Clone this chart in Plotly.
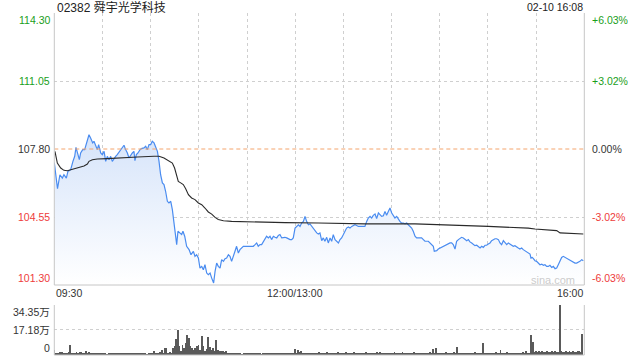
import plotly.graph_objects as go

# ---------------- data ----------------
title_text = "02382 舜宇光学科技"
date_text = "02-10 16:08"
prev_close = 107.80

# (trading minutes since 09:30, price)
price_points = [
    (0, 107.15), (2, 105.90), (3.5, 106.57), (5, 106.41), (6, 106.57), (7.5, 106.41), (8.5, 106.73),
    (10.2, 106.81), (11.6, 107.21), (12.7, 107.45), (13.5, 107.88), (14.8, 107.53), (15.6, 107.29),
    (16.4, 107.61), (17.7, 107.77), (18.9, 107.77), (20.2, 108.17), (21.6, 108.48), (22.6, 108.33),
    (23.9, 108.09), (24.7, 108.17), (25.8, 107.93), (26.8, 107.77), (27.6, 108.01), (28.9, 107.61),
    (29.9, 107.53), (31, 107.69), (32, 107.21), (33, 107.45), (34.1, 107.29), (35.1, 107.45),
    (36.1, 107.21), (37.2, 107.37), (38.2, 107.45), (39.2, 107.53), (40.9, 107.69), (42.4, 107.85),
    (43.4, 107.98), (44.4, 107.77), (45.5, 107.61), (46.5, 107.37), (47.5, 107.50), (48.6, 107.61),
    (49.6, 107.69), (50.2, 107.24), (51.1, 107.53), (52.1, 107.61), (53.4, 107.77), (54.2, 107.82),
    (55.8, 107.85), (56.9, 107.93), (57.9, 107.77), (59, 108.01), (60, 108.01), (61, 108.17),
    (62.1, 108.09), (63.1, 107.85), (64.2, 107.69), (65.2, 107.21), (66.2, 106.57), (67.3, 106.18),
    (68.3, 106.10), (69.3, 105.78), (70.4, 105.30), (71.4, 105.22), (72.5, 105.30), (73.5, 104.90),
    (74.5, 104.18), (75.6, 103.71), (76.2, 103.23), (77, 103.87), (78.3, 103.79), (79.3, 103.71),
    (80.1, 103.87), (81.2, 103.63), (82.4, 103.15), (83.9, 102.99), (85.1, 102.75), (86.6, 102.91),
    (87.6, 102.67), (88.6, 102.75), (89.7, 102.59), (90.7, 102.11), (91.8, 102.19), (92.8, 102.03),
    (93.8, 102.27), (94.9, 101.87), (95.9, 101.79), (97, 101.87), (98, 101.63), (99.2, 101.40),
    (100.1, 101.95), (101.1, 102.35), (102.1, 102.19), (103.2, 102.11), (104.2, 102.51), (105.3, 102.43),
    (106.3, 102.56), (107.3, 102.59), (108.4, 102.75), (109.4, 102.67), (110.4, 102.43), (111.5, 102.75),
    (112.5, 102.91), (113.5, 103.15), (114.6, 102.83), (115.6, 102.99), (116.7, 103.07), (117.7, 103.15),
    (119.8, 103.15), (121.8, 103.15), (123.9, 103.15), (125, 103.23), (126, 103.31), (127, 103.15),
    (128.1, 103.23), (129.1, 103.23), (130.2, 103.39), (131.2, 103.47), (132.2, 103.63), (133.3, 103.55),
    (134.3, 103.63), (135.3, 103.47), (136.4, 103.63), (137.4, 103.58), (138.5, 103.55), (139.5, 103.67),
    (140.5, 103.71), (141.6, 103.55), (142.6, 103.58), (143.6, 103.58), (144.7, 103.55), (145.7, 103.51),
    (146.8, 103.47), (147.8, 103.47), (148.8, 103.55), (149.9, 104.02), (150.9, 104.10), (152, 104.18),
    (153, 104.10), (154, 104.26), (155.1, 104.34), (156.1, 104.58), (157.1, 104.34), (158.2, 104.18),
    (159.2, 104.22), (160.3, 104.10), (161.3, 104.02), (162.3, 103.87), (163.4, 103.79), (164.4, 103.74),
    (165.4, 103.79), (166.5, 103.42), (167.5, 103.55), (168.5, 103.39), (169.6, 103.58), (170.6, 103.31),
    (171.7, 103.55), (172.7, 103.39), (173.7, 103.71), (174.8, 103.47), (175.8, 103.39), (176.9, 103.31),
    (177.9, 103.47), (178.9, 103.55), (180, 103.71), (181, 103.87), (182, 104.02), (183.1, 104.07),
    (184.1, 104.02), (185.2, 104.10), (186.2, 104.15), (187.2, 104.18), (188.3, 104.14), (189.3, 104.10),
    (191.4, 104.10), (193.4, 104.10), (194.5, 104.34), (195.5, 104.50), (196.6, 104.58), (197.6, 104.50),
    (198.6, 104.63), (199.7, 104.69), (200.7, 104.47), (201.8, 104.74), (202.8, 104.66), (203.8, 104.58),
    (204.9, 104.61), (205.9, 104.82), (206.9, 104.63), (208, 104.82), (209, 104.98), (210.1, 104.74),
    (211.1, 104.58), (212.1, 104.50), (213.2, 104.58), (214.2, 104.42), (215.2, 104.34), (216.3, 104.26),
    (217.3, 104.26), (218.4, 104.22), (219.4, 104.26), (220.4, 104.18), (221.5, 104.10), (222.5, 104.02),
    (223.5, 103.87), (224.6, 103.63), (225.6, 103.55), (226.7, 103.55), (227.7, 103.58), (228.7, 103.55),
    (229.8, 103.47), (230.8, 103.39), (232.9, 103.39), (233.9, 103.31), (235, 103.26), (236, 103.15),
    (236.6, 102.91), (238.1, 102.94), (239.1, 103.02), (240.2, 103.07), (241.2, 103.10), (242.2, 103.15),
    (243.3, 103.20), (244.3, 103.23), (245.3, 103.26), (246.4, 103.31), (247.4, 103.31), (248.4, 103.23),
    (249.5, 103.02), (250.5, 103.39), (251.6, 103.47), (252.6, 103.51), (253.6, 103.58), (254.7, 103.55),
    (255.7, 103.47), (256.8, 103.42), (257.8, 103.47), (258.8, 103.36), (259.9, 103.31), (260.9, 103.23),
    (261.9, 103.18), (263, 103.20), (264, 103.12), (265.1, 103.07), (266.1, 103.15), (267.1, 103.10),
    (268.2, 103.20), (269.2, 103.20), (270.2, 103.26), (271.3, 103.31), (272.3, 103.42), (273.4, 103.47),
    (274.4, 103.51), (275.4, 103.51), (276.5, 103.47), (277.5, 103.31), (278.5, 103.23), (279.6, 103.42),
    (280.6, 103.31), (281.7, 103.23), (282.7, 103.31), (283.7, 103.26), (284.8, 103.20), (285.8, 103.15),
    (286.8, 103.18), (287.9, 103.10), (288.9, 103.07), (289.9, 103.02), (291, 103.07), (292, 102.99),
    (293.1, 102.94), (294.1, 102.91), (295.1, 102.83), (296.2, 102.78), (296.8, 102.59), (297.6, 102.62),
    (298.3, 102.56), (299.3, 102.46), (300.3, 102.43), (301.4, 102.35), (302.4, 102.27), (303.5, 102.30),
    (304.5, 102.24), (305.5, 102.27), (306.6, 102.19), (307.6, 102.19), (308.6, 102.24), (309.7, 102.14),
    (310.7, 102.19), (311.8, 102.08), (312.8, 102.11), (313.8, 102.27), (314.9, 102.51), (315.9, 102.62),
    (316.9, 102.67), (318, 102.62), (319, 102.59), (320.1, 102.54), (321.1, 102.51), (322.1, 102.43),
    (323.2, 102.40), (324.2, 102.35), (325.2, 102.35), (326.3, 102.38), (327.3, 102.43), (328.4, 102.51),
    (329.4, 102.46),
]

# (trading minutes since 09:30, average price)
avg_points = [
    (0.4, 107.69), (1.9, 107.13), (4, 106.89), (6, 106.78), (8.1, 106.76), (10.2, 106.81), (12.3, 106.84),
    (14.3, 106.89), (16.4, 106.94), (18.5, 106.99), (20.6, 107.08), (21.6, 107.21), (23.7, 107.29),
    (26.8, 107.32), (33, 107.34), (41.3, 107.39), (51.7, 107.42), (62.1, 107.45), (65.2, 107.45),
    (68.3, 107.37), (71.4, 107.24), (73.5, 107.13), (74.9, 106.89), (76.2, 106.49), (77.2, 106.25),
    (78.7, 106.18), (80.3, 106.10), (81.8, 105.90), (83.5, 105.62), (85.5, 105.46), (87.6, 105.38),
    (89.7, 105.22), (91.8, 105.14), (93.8, 104.98), (95.9, 104.79), (98, 104.69), (100.1, 104.53),
    (102.1, 104.43), (105.3, 104.37), (110.4, 104.34), (122.9, 104.31), (143.6, 104.28), (164.4, 104.26),
    (193.4, 104.22), (224.6, 104.22), (245.3, 104.18), (270.2, 104.10), (295.1, 104.02), (299.3, 103.98),
    (312.8, 103.90), (314.9, 103.79), (329.4, 103.74),
]

# volume per minute (万股), minute 0..329
volume = [
    3.7, 1.5, 1.2, 0.9, 1.8, 2.2, 0.9, 1.5, 1.0, 1.8,
    7.1, 1.2, 1.6, 1.0, 2.0, 1.4, 1.8, 2.4, 1.1, 1.6,
    2.6, 1.2, 1.9, 1.5, 1.0, 1.3, 0.9, 1.1, 0.8, 0.9,
    0.8, 0.7, 0.9, 0.6, 0.8, 0.7, 1.0, 0.8, 1.2, 0.9,
    1.0, 0.8, 1.1, 0.9, 0.7, 1.0, 0.8, 0.9, 0.7, 0.8,
    0.9, 0.7, 0.8, 1.0, 0.7, 0.9, 0.8, 1.1, 0.6, 0.9,
    0.8, 1.2, 2.5, 1.0, 1.5, 1.2, 2.0, 3.7, 1.5, 4.8,
    4.6, 1.4, 1.8, 1.2, 4.8, 5.9, 10.8, 17.4, 6.0, 3.0,
    7.1, 5.0, 8.0, 14.0, 11.5, 6.0, 4.8, 3.2, 4.8, 5.9,
    7.1, 3.5, 12.8, 6.5, 3.0, 4.0, 12.1, 5.5, 3.2, 4.5,
    2.5, 10.5, 3.5, 2.8, 3.0, 2.6, 2.2, 2.8, 1.5, 1.2,
    1.0, 0.8, 1.2, 0.7, 0.9, 1.1, 0.8, 0.6, 1.0, 0.9,
    0.7, 1.0, 0.8, 1.2, 0.9, 0.7, 1.1, 0.8, 1.0, 0.6,
    0.9, 1.2, 0.8, 1.0, 0.7, 1.1, 0.9, 0.8, 1.3, 0.9,
    1.0, 0.7, 0.9, 1.2, 0.8, 1.0, 1.4, 0.9, 1.1, 1.3,
    4.1, 1.5, 3.2, 2.0, 2.5, 1.5, 1.2, 1.0, 1.6, 1.2,
    1.0, 1.4, 0.9, 1.2, 1.5, 1.8, 1.3, 1.0, 1.6, 1.4,
    1.8, 1.2, 1.5, 1.0, 1.4, 1.7, 1.3, 1.9, 1.2, 1.5,
    1.6, 1.2, 2.0, 1.4, 1.1, 1.5, 1.3, 1.8, 1.0, 1.4,
    1.2, 1.6, 1.0, 1.5, 2.2, 1.3, 1.1, 1.7, 1.4, 1.0,
    1.3, 1.8, 1.2, 2.0, 1.5, 1.1, 1.4, 1.6, 1.0, 1.3,
    1.5, 1.2, 1.8, 1.0, 1.6, 1.4, 1.2, 1.9, 1.1, 1.5,
    1.3, 1.7, 1.0, 1.4, 2.0, 1.2, 1.6, 1.1, 1.5, 1.3,
    1.2, 1.6, 1.4, 1.1, 1.8, 1.5, 3.9, 1.2, 4.6, 1.5,
    1.3, 1.7, 1.2, 1.5, 1.9, 1.1, 1.4, 1.6, 1.2, 1.8,
    1.4, 5.3, 1.2, 1.5, 1.0, 1.6, 1.3, 1.7, 1.1, 1.4,
    1.6, 1.2, 1.8, 1.1, 1.5, 1.3, 1.4, 8.0, 1.2, 1.6,
    1.3, 1.7, 1.1, 1.5, 1.2, 1.8, 1.4, 1.0, 3.4, 1.6,
    1.2, 1.5, 1.8, 1.1, 1.4, 1.6, 1.2, 1.7, 1.3, 1.5,
    1.6, 1.2, 1.8, 1.4, 3.0, 1.0, 1.5, 13.7, 8.7, 2.0,
    2.6, 2.2, 2.5, 2.0, 2.7, 2.3, 2.1, 2.6, 2.4, 2.0,
    2.5, 2.2, 2.7, 2.3, 2.1, 34.35, 2.6, 2.4, 2.2, 2.7,
    2.3, 2.5, 2.1, 2.6, 2.4, 2.2, 2.7, 2.5, 2.3, 14.2,
]

price_ticks = [114.30, 111.05, 107.80, 104.55, 101.30]
price_tick_text = ["114.30", "111.05", "107.80", "104.55", "101.30"]
pct_tick_text = ["+6.03%", "+3.02%", "0.00%", "-3.02%", "-6.03%"]
vol_ticks = [34.35, 17.18, 0]
vol_tick_text = ["34.35万", "17.18万", "0"]
time_ticks = [0, 150, 330]
time_tick_text = ["09:30", "12:00/13:00", "16:00"]

# ---------------- styling ----------------
W, H = 640, 360
X0, X1 = 54.3, 584.3
MAIN_TOP, MAIN_BOT = 13, 285
VOL_TOP, VOL_BOT = 305, 355
GREEN = "#1a9e1a"
RED = "#ee3b3b"
DARK = "#333333"
FONT = "Liberation Sans, Arial, Noto Sans CJK SC, sans-serif"
BORDER = "#c6c6c6"
GRID = "#cfcfcf"

px_x = lambda p: p / W
px_y = lambda p: 1 - p / H

pm = [p[0] for p in price_points]
pv = [p[1] for p in price_points]
am = [p[0] for p in avg_points]
av = [p[1] for p in avg_points]
vm = list(range(len(volume)))

fig = go.Figure()

fig.add_trace(go.Scatter(
    x=pm, y=pv, mode="lines", xaxis="x", yaxis="y",
    line=dict(color="#4a8cf0", width=1.2),
    fill="tozeroy",
    fillgradient=dict(type="vertical",
                      colorscale=[[0, "rgba(255,255,255,1)"], [1, "rgba(214,228,250,1)"]],
                      start=price_ticks[-1], stop=108.5),
    hoverinfo="skip", showlegend=False,
))
fig.add_trace(go.Scatter(
    x=am, y=av, mode="lines", xaxis="x", yaxis="y",
    line=dict(color="#2a2a2a", width=1.1),
    hoverinfo="skip", showlegend=False,
))
fig.add_trace(go.Bar(
    x=vm, y=volume, xaxis="x2", yaxis="y2",
    marker=dict(color="#5a5a5a", line=dict(width=0)),
    width=0.55, hoverinfo="skip", showlegend=False,
))

xdom = [px_x(X0), px_x(X1)]
fig.update_layout(
    width=W, height=H,
    margin=dict(l=0, r=0, t=0, b=0),
    paper_bgcolor="white", plot_bgcolor="white",
    font=dict(family=FONT, size=11, color=DARK),
    bargap=0,
    xaxis=dict(domain=xdom, range=[0, 330], anchor="y",
               tickvals=list(range(30, 330, 30)), showticklabels=False, ticks="",
               showgrid=True, gridcolor=GRID, griddash="dot", gridwidth=1,
               zeroline=False, showline=False, fixedrange=True),
    yaxis=dict(domain=[px_y(MAIN_BOT), px_y(MAIN_TOP)], range=[price_ticks[-1], price_ticks[0]],
               anchor="x", tickvals=[price_ticks[1], price_ticks[3]], showticklabels=False, ticks="",
               showgrid=True, gridcolor=GRID, griddash="dot", gridwidth=1,
               zeroline=False, showline=False, fixedrange=True),
    xaxis2=dict(domain=xdom, range=[0, 330], anchor="y2",
                showticklabels=False, ticks="", showgrid=False,
                zeroline=False, showline=False, fixedrange=True),
    yaxis2=dict(domain=[px_y(VOL_BOT), px_y(VOL_TOP)], range=[0, vol_ticks[0]],
                anchor="x2", tickvals=vol_ticks[:2], showticklabels=False, ticks="",
                showgrid=True, gridcolor=GRID, griddash="dot", gridwidth=1,
                zeroline=False, showline=False, fixedrange=True),
)

shapes = []
# prev close dashed line
shapes.append(dict(type="line", xref="x", yref="y", x0=0, x1=330, y0=prev_close, y1=prev_close,
                   line=dict(color="#f4a46c", width=1, dash="4px,3px"), layer="above"))
# frame of main panel: left, right, bottom
for (xa, ya, xb, yb) in [(X0, MAIN_TOP, X0, MAIN_BOT), (X1, MAIN_TOP, X1, MAIN_BOT), (X0, MAIN_BOT, X1, MAIN_BOT),
                         (X0, VOL_TOP, X0, VOL_BOT), (X1, VOL_TOP, X1, VOL_BOT), (X0, VOL_BOT, X1, VOL_BOT)]:
    shapes.append(dict(type="line", xref="paper", yref="paper",
                       x0=px_x(xa), x1=px_x(xb), y0=px_y(ya), y1=px_y(yb),
                       line=dict(color=BORDER, width=1), layer="above"))
fig.update_layout(shapes=shapes)

ann = []
# title and date
ann.append(dict(text=title_text, xref="paper", yref="paper", x=px_x(55), y=px_y(7),
                xanchor="left", yanchor="middle", showarrow=False, font=dict(size=12, color="#222")))
ann.append(dict(text=date_text, xref="paper", yref="paper", x=px_x(584.5), y=px_y(7),
                xanchor="right", yanchor="middle", showarrow=False, font=dict(size=10.5, color="#222")))

label_colors = [GREEN, GREEN, DARK, RED, RED]
shifts = [-7, 0, 0, 0, 7]
for val, txt, pct, col, sh in zip(price_ticks, price_tick_text, pct_tick_text, label_colors, shifts):
    ann.append(dict(text=txt, xref="paper", yref="y", x=px_x(51.5), y=val, yshift=sh,
                    xanchor="right", yanchor="middle", showarrow=False, font=dict(size=10.5, color=col)))
    ann.append(dict(text=pct, xref="paper", yref="y", x=px_x(590), y=val, yshift=sh,
                    xanchor="left", yanchor="middle", showarrow=False, font=dict(size=10.5, color=col)))

vshifts = [-7, 0, 7]
for val, txt, sh in zip(vol_ticks, vol_tick_text, vshifts):
    ann.append(dict(text=txt, xref="paper", yref="y2", x=px_x(51.5), y=val, yshift=sh,
                    xanchor="right", yanchor="middle", showarrow=False, font=dict(size=10.5, color=DARK)))

anchors = ["left", "center", "right"]
xpos = [px_x(X0), None, px_x(X1 + 0.5)]
for t, txt, anc, xp in zip(time_ticks, time_tick_text, anchors, xpos):
    if xp is None:
        ann.append(dict(text=txt, xref="x", yref="paper", x=t, y=px_y(293),
                        xanchor=anc, yanchor="middle", showarrow=False, font=dict(size=10.5, color=DARK)))
    else:
        ann.append(dict(text=txt, xref="paper", yref="paper", x=xp, y=px_y(293),
                        xanchor=anc, yanchor="middle", showarrow=False, font=dict(size=10.5, color=DARK)))

ann.append(dict(text="sina.com", xref="paper", yref="paper", x=px_x(552.5), y=px_y(280),
                xanchor="center", yanchor="middle", showarrow=False, font=dict(size=11, color="#cccccc")))
fig.update_layout(annotations=ann)

fig.write_html("out.html")
